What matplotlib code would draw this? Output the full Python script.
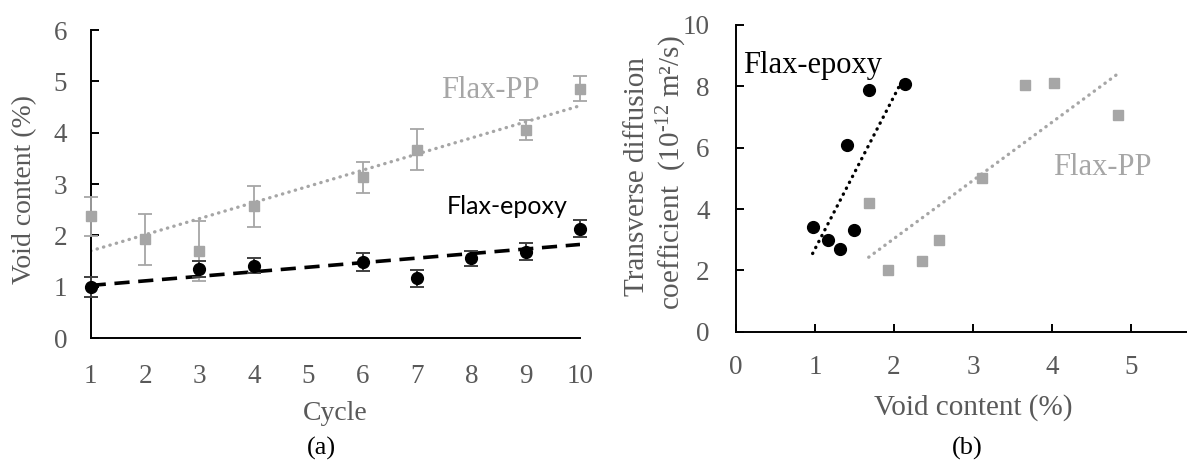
import numpy as np
import matplotlib
matplotlib.use("Agg")
import matplotlib.pyplot as plt

plt.rcParams['font.family'] = ['Liberation Serif', 'DejaVu Serif']
plt.rcParams['mathtext.fontset'] = 'custom'
plt.rcParams['mathtext.rm'] = 'Liberation Serif'
plt.rcParams['mathtext.it'] = 'Liberation Serif:italic'

# (a) void content vs cycle
cycles_pp = [1, 2, 3, 4, 6, 7, 9, 10]
void_pp = [2.37, 1.92, 1.69, 2.57, 3.13, 3.67, 4.05, 4.86]
void_pp_err = [0.38, 0.50, 0.58, 0.40, 0.30, 0.40, 0.20, 0.25]

cycles_ep = [1, 3, 4, 6, 7, 8, 9, 10]
void_ep = [0.99, 1.34, 1.41, 1.48, 1.16, 1.55, 1.68, 2.13]
void_ep_err = [0.20, 0.16, 0.15, 0.18, 0.16, 0.14, 0.17, 0.16]

# (b) diffusion coefficient vs void content
void_b_ep = [0.98, 1.16, 1.32, 1.49, 1.40, 1.68, 2.14]
diff_ep = [3.42, 3.00, 2.71, 3.31, 6.10, 7.89, 8.09]
void_b_pp = [1.68, 1.92, 2.35, 2.57, 3.11, 3.66, 4.03, 4.84]
diff_pp = [4.20, 2.00, 2.31, 3.00, 5.02, 8.05, 8.10, 7.08]
ep_trend_x = [0.97, 2.13]
ep_trend_y = [2.55, 8.32]

GRAY = '#A6A6A6'
TXT = '#595959'

fig = plt.figure(figsize=(11.87, 4.68), dpi=100)
ax1 = fig.add_axes([90.7 / 1187, 130 / 468, 489.3 / 1187, 308 / 468])
ax2 = fig.add_axes([736 / 1187, 136.3 / 468, 474 / 1187, 306.7 / 468])


def style_axis(ax):
    for s in ['top', 'right']:
        ax.spines[s].set_visible(False)
    for s in ['left', 'bottom']:
        ax.spines[s].set_linewidth(1.4)
        ax.spines[s].set_color('black')
    ax.tick_params(colors=TXT, labelsize=19.5)
    ax.tick_params(axis='both', which='major', direction='in', width=1.4,
                   length=5.8, color='black')


# ---- panel (a)
style_axis(ax1)
ax1.tick_params(axis='x', length=0, pad=19)
ax1.tick_params(axis='y', pad=17)

k_pp = np.polyfit(cycles_pp, void_pp, 1)
k_ep = np.polyfit(cycles_ep, void_ep, 1)
xs = np.array([1, 10])
ax1.plot(xs, np.polyval(k_pp, xs), color=GRAY, lw=2.4,
         linestyle=(0, (0.1, 1.9)), dash_capstyle='round', zorder=2)
ax1.plot(xs, np.polyval(k_ep, xs), color='black', lw=2.6,
         linestyle=(0, (4.2, 2.4)), zorder=2)

ax1.errorbar(cycles_pp, void_pp, yerr=void_pp_err, fmt='s', ms=7, color=GRAY,
             ecolor=GRAY, elinewidth=1.3, capsize=5, capthick=1.3,
             clip_on=False, zorder=3)
ax1.errorbar(cycles_ep, void_ep, yerr=void_ep_err, fmt='o', ms=8.5,
             color='black', ecolor='#404040', elinewidth=1.4, capsize=5,
             capthick=1.4, clip_on=False, zorder=4)

ax1.set_xlim(1, 10)
ax1.set_ylim(0, 6)
ax1.set_xticks(range(1, 11))
ax1.set_yticks(range(0, 7))

fig.text(490 / 1187, 1 - 90 / 468, 'Flax-PP', color=GRAY, fontsize=22,
         ha='center', va='center')
fig.text(507 / 1187, 1 - 207 / 468, 'Flax-epoxy', color='black', fontsize=18,
         family=['Lato', 'DejaVu Sans'], ha='center', va='center')
fig.text(25 / 1187, 1 - 189 / 468, 'Void content (%)', color=TXT, fontsize=20,
         rotation=90, ha='center', va='center')
fig.text(335 / 1187, 1 - 413 / 468, 'Cycle', color=TXT, fontsize=20,
         ha='center', va='center')
fig.text(321 / 1187, 1 - 448 / 468, '(a)', color='black', fontsize=19,
         ha='center', va='center')

# ---- panel (b)
style_axis(ax2)
ax2.tick_params(axis='x', pad=17)
ax2.tick_params(axis='y', pad=19)

k_bpp = np.polyfit(void_b_pp, diff_pp, 1)
xb = np.array([min(void_b_pp), max(void_b_pp)])
ax2.plot(xb, np.polyval(k_bpp, xb), color=GRAY, lw=2.4,
         linestyle=(0, (0.1, 1.9)), dash_capstyle='round', zorder=2)
ax2.plot(ep_trend_x, ep_trend_y, color='black', lw=2.4,
         linestyle=(0, (0.1, 1.9)), dash_capstyle='round', zorder=2)

ax2.plot(void_b_pp, diff_pp, 's', ms=7.5, color=GRAY, zorder=3)
ax2.plot(void_b_ep, diff_ep, 'o', ms=8.5, color='black', zorder=4)

ax2.set_xlim(0, 6)
ax2.set_ylim(0, 10)
ax2.set_xticks(range(0, 6))
ax2.set_yticks(range(0, 11, 2))

fig.text(813 / 1187, 1 - 65 / 468, 'Flax-epoxy', color='black', fontsize=22,
         ha='center', va='center')
fig.text(1102 / 1187, 1 - 167 / 468, 'Flax-PP', color=GRAY, fontsize=22,
         ha='center', va='center')
fig.text(637 / 1187, 1 - 176 / 468, 'Transverse diffusion', color=TXT,
         fontsize=21, rotation=90, ha='center', va='center')
fig.text(672 / 1187, 1 - 173 / 468, 'coefficient  (10$^{\u201012}$ m²/s)',
         color=TXT, fontsize=21, rotation=90, ha='center', va='center')
fig.text(973 / 1187, 1 - 408 / 468, 'Void content (%)', color=TXT,
         fontsize=21, ha='center', va='center')
fig.text(967 / 1187, 1 - 448 / 468, '(b)', color='black', fontsize=19,
         ha='center', va='center')

fig.savefig('out.png', dpi=100)
